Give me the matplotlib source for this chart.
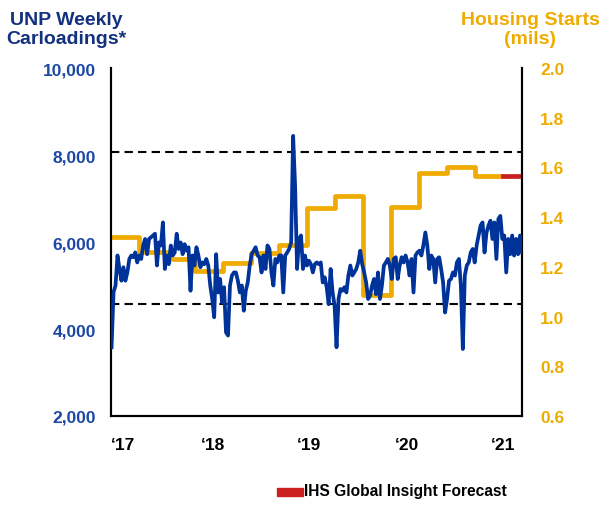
import numpy as np
import matplotlib
matplotlib.use("Agg")
import matplotlib.pyplot as plt
from matplotlib.patches import Rectangle
from matplotlib.ticker import FuncFormatter

plt.rcParams["font.family"] = ["Liberation Sans", "DejaVu Sans"]
plt.rcParams["font.weight"] = "bold"

# UNP weekly carloadings (weekly, oldest first)
carloads = [
    3580, 4850, 5000, 5690, 5380, 5110, 5420, 5110, 5300, 5610, 5690, 5650,
    5760, 5530, 5690, 5610, 5920, 6070, 5720, 6070, 6110, 6150, 6190, 5460,
    5990, 5920, 6450, 5380, 5690, 5490, 5920, 5690, 5760, 6190, 5840, 5990,
    5720, 5950, 5800, 5880, 4880, 5690, 5460, 5880, 5690, 5420, 5530, 5490,
    5610, 5460, 5000, 4690, 4270, 5720, 4840, 5150, 4610, 4960, 3920, 3850,
    5000, 5230, 5300, 5300, 5110, 4840, 5000, 4420, 4880, 5070, 5460, 5720,
    5800, 5880, 5690, 5650, 5300, 5690, 5380, 5920, 5840, 5300, 5000, 5610,
    5530, 5690, 5690, 4840, 5690, 5760, 5840, 5990, 8440, 7290, 5380, 6070,
    6150, 5380, 5690, 5460, 5570, 5490, 5300, 5490, 5530, 5490, 5530, 5070,
    5190, 4960, 4570, 5380, 4840, 4540, 3580, 4690, 4920, 4880, 4960, 4840,
    5230, 5460, 5230, 5300, 5380, 5530, 5800, 5490, 5300, 5070, 4690, 4770,
    5000, 5150, 4800, 5300, 4690, 5000, 5460, 5530, 5610, 5460, 5150, 5610,
    5650, 5150, 5460, 5650, 5530, 5690, 5530, 5230, 5610, 4840, 5690, 5760,
    5800, 5690, 5920, 6220, 5920, 5380, 5690, 5610, 5070, 5610, 5650, 5380,
    5070, 4380, 4690, 5110, 5150, 5300, 5230, 5530, 5610, 5000, 3540, 5230,
    5460, 5530, 5760, 5840, 5530, 5920, 6150, 6380, 6450, 5760, 6220, 6380,
    6490, 6070, 6450, 5610, 6530, 6600, 6070, 6150, 5300, 6070, 5720, 6150,
    5690, 6070, 5720, 6150, 5760,
]

# housing starts (mils), quarterly
housing = [1.32, 1.26, 1.232, 1.185, 1.214, 1.256, 1.288, 1.437, 1.484,
           1.087, 1.442, 1.578, 1.60, 1.564]
forecast = 1.564

year_labels = ["\u201817", "\u201818", "\u201819", "\u201820", "\u201821"]
year_ticks = [0.0, 3.2, 6.65, 10.15, 13.55]

BLUE = "#003399"
GOLD = "#F0AB00"
RED = "#CC1F1F"
XMAX = 14.68


def main():
    fig = plt.figure(figsize=(6.12, 5.06), dpi=100)
    ax = fig.add_axes([0.1814, 0.1759, 0.6716, 0.6877])
    ax2 = ax.twinx()

    x_blue = np.linspace(0.02, XMAX, len(carloads))
    ax.plot(x_blue, carloads, color=BLUE, lw=2.7, solid_joinstyle="round", zorder=3)

    for yv in (8070, 4575):
        ax.axhline(yv, color="black", lw=1.5, dashes=(4, 2.5), zorder=2)

    xq = list(range(len(housing) + 1))
    ax2.plot(xq, housing + [housing[-1]], drawstyle="steps-post",
             color=GOLD, lw=3.4, solid_joinstyle="round")
    ax2.plot([len(housing), XMAX], [forecast, forecast], color=RED, lw=3.4)

    ax.set_zorder(ax2.get_zorder() + 1)
    ax.patch.set_visible(False)

    ax.set_xlim(0, XMAX)
    ax.set_ylim(2000, 10000)
    ax2.set_ylim(0.6, 2.0)

    ax.set_yticks(range(2000, 10001, 2000))
    ax.yaxis.set_major_formatter(FuncFormatter(lambda v, p: f"{int(v):,}"))
    ax2.set_yticks(np.arange(0.6, 2.01, 0.2))
    ax2.yaxis.set_major_formatter(FuncFormatter(lambda v, p: f"{v:.1f}"))

    ax.set_xticks(year_ticks)
    ax.set_xticklabels(year_labels, ha="left")

    ax.tick_params(axis="y", length=0, pad=11, labelsize=12.5, labelcolor="#1C47A3")
    ax.tick_params(axis="x", length=0, pad=15, labelsize=12.5, labelcolor="black")
    ax2.tick_params(axis="y", length=0, pad=13, labelsize=12.5, labelcolor=GOLD)

    for a in (ax, ax2):
        a.spines["top"].set_visible(False)
        for s in ("left", "right", "bottom"):
            a.spines[s].set_linewidth(1.5)
            a.spines[s].set_color("black")

    fig.text(0.109, 0.941, "UNP Weekly\nCarloadings*", ha="center", va="center",
             fontsize=14, color="#13317F", linespacing=1.2, fontweight="bold")
    fig.text(0.866, 0.941, "Housing Starts\n(mils)", ha="center", va="center",
             fontsize=14, color=GOLD, linespacing=1.2, fontweight="bold")

    # forecast legend
    fig.patches.append(Rectangle((277 / 612, 1 - 497 / 506), 26 / 612, 8 / 506,
                                 transform=fig.transFigure, color=RED))
    fig.text(304 / 612, 1 - 492 / 506, "IHS Global Insight Forecast",
             ha="left", va="center", fontsize=11.2, fontweight="bold")

    fig.savefig("out.png", dpi=100)


if __name__ == "__main__":
    main()
